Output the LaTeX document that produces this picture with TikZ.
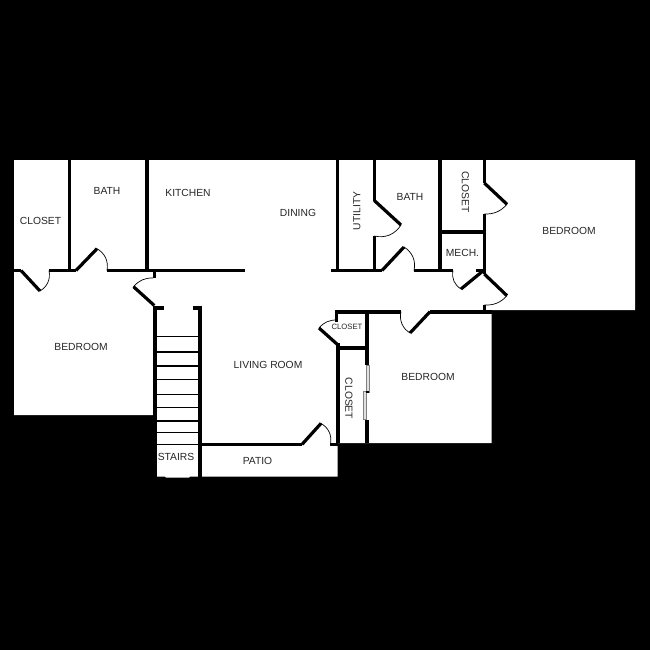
\documentclass[tikz,border=0pt]{standalone}
\usepackage{fontspec}
\setmainfont{Liberation Sans}
\tikzset{
  wall/.style={line width=3.6pt,line cap=butt,line join=miter,black},
  door/.style={line width=3.2pt,line cap=butt,black},
  swing/.style={line width=0.7pt,black},
  tread/.style={line width=1.1pt,black},
  slider/.style={draw=black!50,fill=black!12,line width=0.6pt},
  lab/.style={font=\fontsize{10.3pt}{12pt}\selectfont,text=black!85,inner sep=0pt},
  labs/.style={font=\fontsize{7.7pt}{9pt}\selectfont,text=black!85,inner sep=0pt}
}
\begin{document}
\begin{tikzpicture}[x=1pt,y=-1pt]
\useasboundingbox (0,0) rectangle (650,650);
\fill[black] (0,0) rectangle (650,650);
% floor
\fill[white] (14,160) -- (635,160) -- (635,310) -- (491.5,310) -- (491.5,443) -- (337.5,443) -- (337.5,476.5)
  -- (190,476.5) -- (189,477.5) -- (166,477.5) -- (165,476.5) -- (155,476.5) -- (155,415) -- (14,415) -- cycle;
% upper walls
\draw[wall] (69.3,160) -- (69.3,270);
\draw[wall] (146.7,160) -- (146.7,270);
\draw[wall] (14,270.5) -- (21,270.5);
\draw[wall] (49,270.5) -- (76,270.5);
\draw[wall] (107,270.5) -- (245,270.5);
\draw[wall] (154.3,270) -- (154.3,278);
\draw[wall] (331,270.5) -- (382,270.5);
\draw[wall] (414,270.5) -- (453,270.5);
\draw[wall] (476,270.5) -- (486,270.5);
\draw[wall] (337.3,160) -- (337.3,272);
\draw[wall] (374.3,160) -- (374.3,200.5);
\draw[wall] (374.3,236) -- (374.3,272);
\draw[wall] (440,160) -- (440,272);
\draw[wall] (484.3,160) -- (484.3,183);
\draw[wall] (484.3,214) -- (484.3,274);
\draw[wall] (484.3,305) -- (484.3,313);
\draw[wall] (440,231.7) -- (484.3,231.7);
% middle walls
\draw[wall] (336.5,322) -- (336.5,311.7) -- (401,311.7);
\draw[wall] (430,311.7) -- (491.5,311.7);
\draw[wall] (366.8,311.7) -- (366.8,365);
\draw[wall] (366.8,420) -- (366.8,443);
\draw[wall] (338,343) -- (338,443);
\draw[wall] (338,348) -- (366.8,348);
\draw[wall] (164,308.2) -- (155,308.2) -- (155,477);
\draw[wall] (193,308.2) -- (200,308.2) -- (200,477);
\draw[wall] (200,444.4) -- (302,444.4);
\draw[wall] (330,444.4) -- (338,444.4);
% door leaves
\draw[door] (21,270.5) -- (40,291);
\draw[door] (76,270.5) -- (97,248.7);
\draw[door] (154.3,305.5) -- (133.5,286.7);
\draw[door] (374.3,200.5) -- (401,225);
\draw[door] (382,270.5) -- (404,247);
\draw[door] (461,289) -- (483.5,270.5);
\draw[door] (484.3,183) -- (507,204.3);
\draw[door] (484.3,274) -- (507,295.7);
\draw[door] (410,333) -- (430,311.7);
\draw[door] (319,328) -- (338,345);
\draw[door] (302,444.4) -- (321,423.4);
% door swings
\draw[swing] (40,291) to[bend right=35] (49,270.5);
\draw[swing] (97,248.7) to[bend left=35] (107,270.5);
\draw[swing] (133.5,286.7) to[bend left=25] (153,278);
\draw[swing] (401,225) to[bend left=35] (374.3,236);
\draw[swing] (404,247) to[bend left=35] (414,270.5);
\draw[swing] (453,270.5) to[bend right=35] (461,289);
\draw[swing] (507,204.3) to[bend left=25] (484.3,214);
\draw[swing] (507,295.7) to[bend left=25] (484.3,305);
\draw[swing] (401,311.7) to[bend right=35] (410,333);
\draw[swing] (319,328) to[bend left=25] (337,320);
\draw[swing] (321,423.4) to[bend left=35] (330.5,444);
% treads
\foreach \ty in {336.7,352,366,379.5,394.3,407.7,421,432.7,444.4}
  \draw[tread] (155,\ty) -- (200,\ty);
% sliding closet doors
\draw[slider] (366,365) rectangle (369,392.5);
\draw[slider] (363.3,391) rectangle (366.3,419.5);
\fill[black] (365.8,391) rectangle (369,393);
% labels
\node[lab] (closetA) at (40.5,220.5) {CLOSET};
\node[lab] (bathA) at (107,190.5) {BATH};
\node[lab] (kitchen) at (188,192.5) {KITCHEN};
\node[lab] (dining) at (298,213) {DINING};
\node[lab,rotate=90] (utility) at (357,211) {UTILITY};
\node[lab] (bathB) at (410,197) {BATH};
\node[lab,rotate=-90] (closetB) at (465.5,192) {CLOSET};
\node[lab] (mech) at (462.5,253) {MECH.};
\node[lab] (bedA) at (569,231) {BEDROOM};
\node[lab] (bedB) at (81,347) {BEDROOM};
\node[lab] (living) at (268,365) {LIVING ROOM};
\node[labs] (closetC) at (347,327) {CLOSET};
\node[lab,rotate=-90] (closetD) at (349,398.5) {CLOSET};
\node[lab] (bedC) at (428,377) {BEDROOM};
\node[lab] (stairs) at (176,457) {STAIRS};
\node[lab] (patio) at (257.5,461) {PATIO};
\end{tikzpicture}
\end{document}
